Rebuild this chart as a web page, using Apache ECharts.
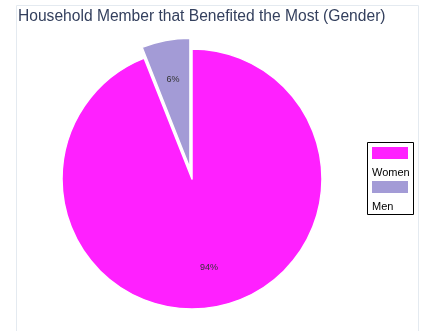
<!DOCTYPE html>
<html>
<head>
<meta charset="utf-8">
<script src="https://cdn.jsdelivr.net/npm/echarts@6/dist/echarts.min.js"></script>
<style>
  html, body { margin: 0; padding: 0; background: #fff; }
  #chart { width: 425px; height: 331px; }
</style>
</head>
<body>
<div id="chart"></div>
<script>
// Who in the household benefited the most, split by gender (counts in %)
const categories = ['Women', 'Men'];
const values = [94, 6];
const colors = ['#ff20ff', '#a39bd6'];
const explodedCategory = 'Men';

const FONT = '"Liberation Sans", Arial, sans-serif';
const center = [192, 179];
const radius = 130;

const sliceData = categories.map((name, i) => ({
  name: name,
  value: values[i],
  selected: name === explodedCategory,
  itemStyle: { color: colors[i] }
}));

// Second, invisible pie of twice the label radius: its "inside" labels
// land two thirds of the way out on the visible slices.
const labelData = categories.map((name, i) => ({
  name: name,
  value: values[i],
  selected: name === explodedCategory
}));

// Boxed key with each name written under its swatch
const KEY_SWATCH_W = 36, KEY_SWATCH_H = 12, KEY_STEP = 34, KEY_PAD = 5;
const keyItems = [];
categories.forEach((name, i) => {
  keyItems.push({
    type: 'rect',
    shape: { x: KEY_PAD, y: KEY_PAD + i * KEY_STEP, width: KEY_SWATCH_W, height: KEY_SWATCH_H },
    style: { fill: colors[i] }
  });
  keyItems.push({
    type: 'text',
    x: KEY_PAD,
    y: KEY_PAD + i * KEY_STEP + 25.5,
    style: {
      text: name,
      fontFamily: FONT,
      fontSize: 11,
      fill: '#000',
      textAlign: 'left',
      textVerticalAlign: 'middle'
    }
  });
});
keyItems.unshift({
  type: 'rect',
  shape: { x: 0.5, y: 0.5, width: 46, height: 72 },
  style: { fill: '#fff', stroke: '#000', lineWidth: 1 }
});

const chart = echarts.init(document.getElementById('chart'), null, { renderer: 'canvas' });

chart.setOption({
  animation: false,
  backgroundColor: '#ffffff',
  graphic: [
    {
      type: 'rect',
      z: -10,
      silent: true,
      shape: { x: 16.5, y: 5.5, width: 402, height: 340 },
      style: { fill: 'none', stroke: '#e4eaf0', lineWidth: 1 }
    },
    {
      type: 'group',
      x: 367,
      y: 142,
      silent: true,
      children: keyItems
    }
  ],
  title: {
    text: 'Household Member that Benefited the Most (Gender)',
    left: 18,
    top: 9,
    padding: 0,
    textStyle: { fontFamily: FONT, fontSize: 15.6, fontWeight: 'normal', color: '#34405e' }
  },
  series: [
    {
      type: 'pie',
      center: center,
      radius: [0, radius],
      startAngle: 90,
      clockwise: true,
      selectedMode: 'single',
      selectedOffset: 11,
      silent: true,
      label: { show: false },
      labelLine: { show: false },
      itemStyle: { borderColor: '#ffffff', borderWidth: 1.5 },
      emphasis: { disabled: true },
      data: sliceData
    },
    {
      type: 'pie',
      center: center,
      radius: [0, radius * 1.34],
      startAngle: 90,
      clockwise: true,
      selectedMode: 'single',
      selectedOffset: 11,
      silent: true,
      z: 3,
      itemStyle: { color: 'rgba(0,0,0,0)', borderWidth: 0 },
      select: { itemStyle: { color: 'rgba(0,0,0,0)' } },
      emphasis: { disabled: true },
      labelLine: { show: false },
      label: {
        show: true,
        position: 'inside',
        formatter: '{d}%',
        fontFamily: FONT,
        fontSize: 9,
        color: '#333333'
      },
      data: labelData
    }
  ]
});
</script>
</body>
</html>
